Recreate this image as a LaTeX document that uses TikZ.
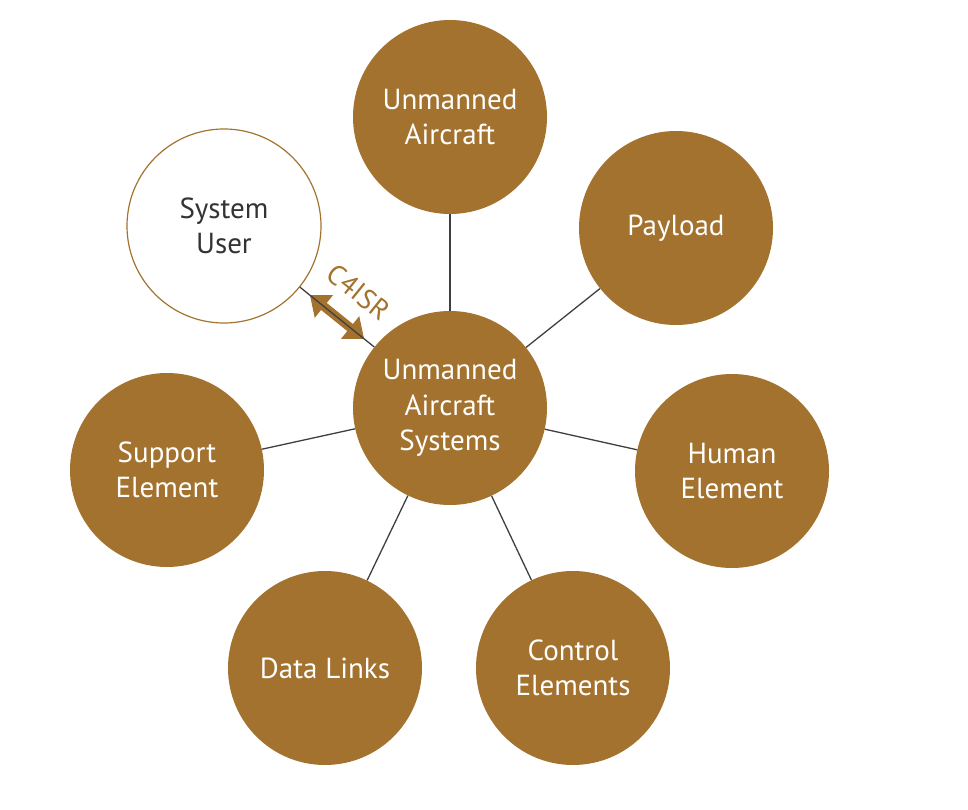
\documentclass[tikz,border=0pt]{standalone}
\usepackage{fontspec}
\setmainfont{PT Sans}
\usetikzlibrary{arrows.meta,calc}
\definecolor{uasbrown}{HTML}{A3722E}
\definecolor{linkgray}{HTML}{3F3F3F}
\tikzset{
  element/.style={circle, fill=uasbrown, text=white, minimum size=194pt, inner sep=0pt,
    align=center, font=\fontsize{29}{35.5}\selectfont},
  userbox/.style={circle, draw=uasbrown, line width=1.2pt, fill=white, text=black!80,
    minimum size=194pt, inner sep=0pt, align=center, font=\fontsize{29}{35.5}\selectfont},
  link/.style={draw=linkgray, line width=1.3pt},
  c4arrow/.style={draw=uasbrown, line width=9pt,
    {Triangle[width=28pt,length=18pt]}-{Triangle[width=28pt,length=18pt]}},
  c4label/.style={text=uasbrown, font=\fontsize{28}{30}\selectfont}
}
\begin{document}
\begin{tikzpicture}[x=1pt,y=-1pt]
    \useasboundingbox (0,0) rectangle (968,810);

    % Centre and surrounding elements
    \node[element] (uas) at (450,408) {Unmanned\\Aircraft\\Systems};
    \node[element] (ua) at (450,117) {Unmanned\\Aircraft};
    \node[element] (pay) at (676,228) {Payload};
    \node[element] (hum) at (732,471) {Human\\Element};
    \node[element] (ctl) at (573,668) {Control\\Elements};
    \node[element] (dat) at (325,668) {Data Links};
    \node[element] (sup) at (167,470) {Support\\Element};
    \node[userbox] (usr) at (224,226) {System\\User};

    % Spokes
    \foreach \n in {ua, pay, hum, ctl, dat, sup} {
        \draw[link] (uas) -- (\n);
    }

    % C4ISR interface
    \draw[c4arrow] ($(usr)!0.38!(uas)$) -- ($(usr)!0.62!(uas)$);
    \draw[link] (usr) -- node[sloped, above=19pt, pos=0.51, c4label] (c4) {C4ISR} (uas);
\end{tikzpicture}
\end{document}
